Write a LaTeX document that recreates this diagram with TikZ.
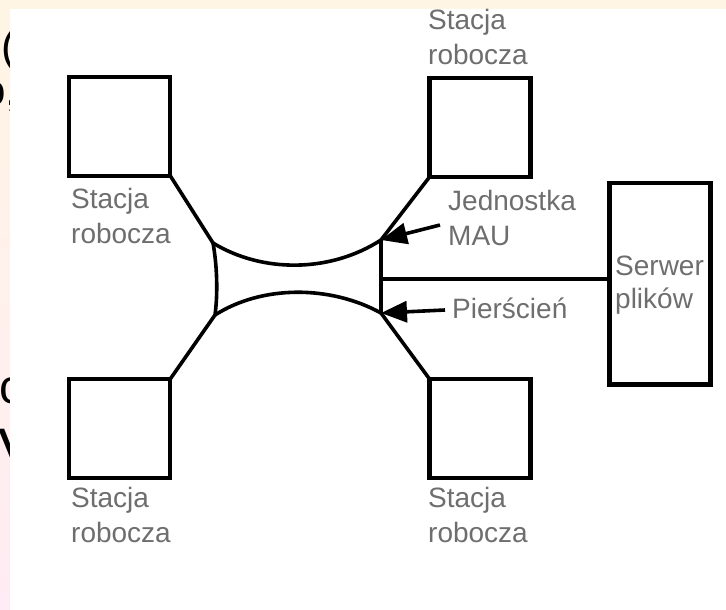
\documentclass[tikz,border=0pt]{standalone}
\usepackage{fontspec}
\setmainfont{Liberation Sans}
\usetikzlibrary{arrows.meta}

\definecolor{slidetop}{RGB}{255,245,228}
\definecolor{slidebot}{RGB}{255,236,244}
\definecolor{textgray}{RGB}{110,110,110}

\tikzset{
  stationbox/.style={draw=black, line width=4.3pt, minimum width=101pt,
    minimum height=99pt, inner sep=0pt, outer sep=0pt},
  serverbox/.style={draw=black, line width=4.3pt, minimum width=101pt,
    minimum height=201.5pt, inner sep=0pt, outer sep=0pt},
  ringline/.style={draw=black, line width=3.6pt, line join=round},
  pointer/.style={draw=black, line width=3.6pt,
    -{Triangle[length=26pt,width=21pt]}},
  wstext/.style={text=textgray, inner sep=0pt, align=left,
    font=\fontsize{28}{35}\selectfont},
  slidetext/.style={text=black, inner sep=0pt, anchor=base west}
}

\begin{document}
\begin{tikzpicture}[x=1pt,y=-1pt]
\useasboundingbox (0,0) rectangle (726,610);

% slide backdrop around the figure
\fill[slidetop] (0,0) rectangle (726,9);
\shade[top color=slidetop, bottom color=slidebot] (0,0) rectangle (10,610);

% edges of the slide text peeking out on the left
\begin{scope}
  \clip (0,9) rectangle (10,610);
  \node[slidetext, font=\fontsize{44}{44}\selectfont] (s1) at (1,62) {(};
  \node[slidetext, font=\fontsize{44}{44}\selectfont] (s2) at (-19,106) {o,};
  \node[slidetext, font=\fontsize{48}{48}\selectfont] (s3) at (-1,403) {c};
  \node[slidetext, font=\fontsize{60}{60}\selectfont] (s4) at (-2,470) {V};
\end{scope}

% figure area
\fill[white] (10,9) rectangle (726,610);

% workstations and the file server
\node[stationbox] (ws1) at (119.75,126.25) {};
\node[stationbox] (ws2) at (480,127.5) {};
\node[stationbox] (ws3) at (119.75,428.5) {};
\node[stationbox] (ws4) at (480,428.5) {};
\node[serverbox]  (srv) at (660,283.75) {};

% corners of the ring
\coordinate (A) at (213,243);
\coordinate (B) at (381,240);
\coordinate (C) at (215,315);
\coordinate (D) at (381,313);
\coordinate (T) at (381,279);

% the ring itself
\draw[ringline] (A) .. controls (262,273) and (330,273) .. (B);
\draw[ringline] (C) .. controls (262,285) and (330,285) .. (D);
\draw[ringline] (A) .. controls (217,265) and (218,293) .. (C);
\draw[ringline] (B) -- (D);

% lobes out to the stations
\draw[ringline] (ws1.south east) -- (A);
\draw[ringline] (ws2.south west) -- (B);
\draw[ringline] (ws3.north east) -- (C);
\draw[ringline] (ws4.north west) -- (D);

% link to the server
\draw[ringline] (T) -- (T -| srv.west);

% callouts
\coordinate (m0) at (440,225);
\coordinate (p0) at (445,310);
\draw[pointer] (m0) -- (B);
\draw[pointer] (p0) -- (D);

% labels (anchored on the baseline of their last line)
\node[wstext, anchor=base west] (t1) at (71,243) {Stacja\\robocza};
\node[wstext, anchor=base west] (t2) at (428,65) {Stacja\\robocza};
\node[wstext, anchor=base west] (t3) at (71,542) {Stacja\\robocza};
\node[wstext, anchor=base west] (t4) at (428,542) {Stacja\\robocza};
\node[wstext, anchor=base west] (t5) at (448,245) {Jednostka\\MAU};
\node[wstext, anchor=base west] (t6) at (452,318) {Pierścień};
\node[wstext, anchor=base west, font=\fontsize{28}{33}\selectfont] (t7) at (615,308) {Serwer\\plików};
\end{tikzpicture}
\end{document}
